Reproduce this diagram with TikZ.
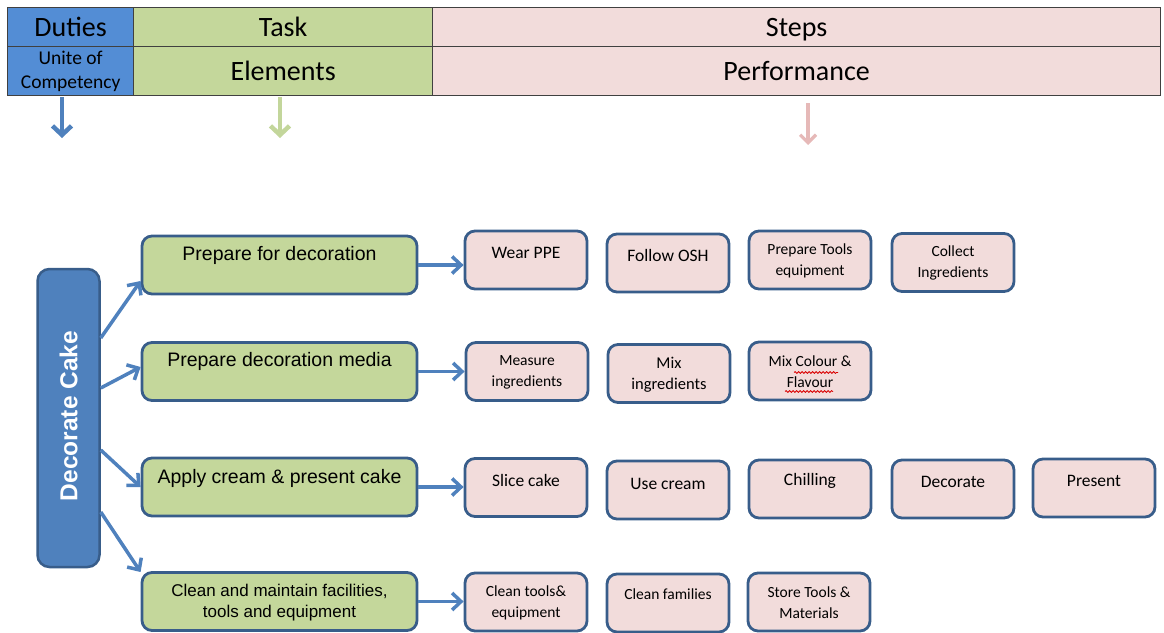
\documentclass[tikz,border=0pt]{standalone}
\usepackage{fontspec}
\setmainfont{Carlito}
\newfontfamily\arialf{Liberation Sans}
\usetikzlibrary{arrows.meta,calc,decorations.pathmorphing}
\definecolor{hblue}{RGB}{83,141,213}
\definecolor{hgreen}{RGB}{196,215,155}
\definecolor{hpink}{RGB}{242,220,219}
\definecolor{bblue}{RGB}{79,129,189}
\definecolor{bord}{RGB}{56,93,138}
\definecolor{hline}{RGB}{64,64,64}
\definecolor{agreen}{RGB}{195,214,155}
\definecolor{apink}{RGB}{230,185,184}
\begin{document}
\begin{tikzpicture}[x=1pt,y=-1pt,
  hcell/.style={draw=hline,line width=1.3pt,anchor=north west,inner sep=0pt,align=center,
    font=\fontsize{28}{30}\selectfont},
  hsingle/.style={text height=22pt,text depth=3pt},
  dutybox/.style={rounded corners=12pt,fill=bblue,draw=bord,line width=2.5pt,
    minimum width=62pt,minimum height=298pt,inner sep=0pt},
  taskbox/.style={rounded corners=10pt,fill=hgreen,draw=bord,line width=2.8pt,
    minimum width=275pt,minimum height=58pt,inner sep=0pt},
  stepbox/.style={rounded corners=10pt,fill=hpink,draw=bord,line width=2.8pt,
    minimum width=122pt,minimum height=58pt,inner sep=0pt},
  ttext/.style={inner sep=0pt,align=center,font=\arialf\fontsize{19.5}{21}\selectfont},
  ttextsm/.style={inner sep=0pt,align=center,font=\arialf\fontsize{17}{21}\selectfont},
  stext/.style={inner sep=0pt,align=center,font=\fontsize{17.5}{21}\selectfont},
  stextsm/.style={inner sep=0pt,align=center,font=\fontsize{15.5}{21}\selectfont},
  conn/.style={draw=bblue,line width=3.5pt,-{Straight Barb[length=9pt,width=17pt]}},
  harrow/.style={line width=4.5pt,-{Straight Barb[length=9pt,width=19pt]}},
  wavy/.style={draw=red!85!black,line width=0.8pt,decorate,
    decoration={snake,amplitude=0.9pt,segment length=3.5pt}}
]
\useasboundingbox (0,0) rectangle (1164,632);
\clip (0,0) rectangle (1164,632);

% header table
\node[hcell,hsingle,fill=hblue,minimum width=126pt,minimum height=39pt] (hd1) at (7,7) {Duties};
\node[hcell,hsingle,fill=hgreen,minimum width=299pt,minimum height=39pt] (ht1) at (133,7) {Task};
\node[hcell,hsingle,fill=hpink,minimum width=728pt,minimum height=39pt] (hs1) at (432,7) {Steps};
\node[hcell,fill=hblue,minimum width=126pt,minimum height=49pt,
  font=\fontsize{19.5}{24}\selectfont] (hd2) at (7,46) {Unite of\\Competency};
\node[hcell,hsingle,fill=hgreen,minimum width=299pt,minimum height=49pt] (ht2) at (133,46) {Elements};
\node[hcell,hsingle,fill=hpink,minimum width=728pt,minimum height=49pt] (hs2) at (432,46) {Performance};

% header arrows
\coordinate (ab1) at (62,97);  \coordinate (ae1) at (62,138);
\coordinate (ab2) at (280,97); \coordinate (ae2) at (280,138);
\coordinate (ab3) at (808,103); \coordinate (ae3) at (808,145);
\draw[harrow,draw=bblue] (ab1) -- (ae1);
\draw[harrow,draw=agreen] (ab2) -- (ae2);
\draw[line width=3.2pt,draw=apink,-{Straight Barb[length=8pt,width=16pt]}] (ab3) -- (ae3);

% duty
\node[dutybox] (dc) at (68.5,418) {};
\node[rotate=90,text=white,inner sep=0pt,font=\arialf\bfseries\fontsize{24.5}{26}\selectfont] (dct) at ($(dc.center)+(0,-2)$) {Decorate Cake};

% tasks
\node[taskbox] (g1) at (279.5,265) {};
\node[taskbox] (g2) at (279.5,371.5) {};
\node[taskbox] (g3) at (279.5,487) {};
\node[taskbox] (g4) at (279.5,601.5) {};
\node[ttext] (g1t) at ($(g1.north)+(0,21)$) {Prepare for decoration};
\node[ttext] (g2t) at ($(g2.north)+(0,20.5)$) {Prepare decoration media};
\node[ttext] (g3t) at ($(g3.north)+(0,22)$) {Apply cream \& present cake};
\node[ttextsm] (g4t) at ($(g4.north)+(0,31)$) {Clean and maintain facilities,\\tools and equipment};

% duty -> task connectors
\coordinate (s1) at (0,338); \coordinate (e1) at (0,281);
\coordinate (s2) at (0,388); \coordinate (e2) at (0,367);
\coordinate (s3) at (0,450); \coordinate (e3) at (0,487);
\coordinate (s4) at (0,512); \coordinate (e4) at (0,572);
\draw[conn] (dc.east |- s1) -- (g1.west |- e1);
\draw[conn] (dc.east |- s2) -- (g2.west |- e2);
\draw[conn] (dc.east |- s3) -- (g3.west |- e3);
\draw[conn] (dc.east |- s4) -- (g4.west |- e4);

% steps row 1
\node[stepbox] (p11) at (526,260) {};
\node[stepbox] (p12) at (668,263) {};
\node[stepbox] (p13) at (810,260) {};
\node[stepbox] (p14) at (953,262.5) {};
\node[stext] at ($(p11.north)+(0,23)$) {Wear PPE};
\node[stext] at ($(p12.north)+(0,23)$) {Follow OSH};
\node[stextsm] at ($(p13.north)+(0,31)$) {Prepare Tools\\equipment};
\node[stextsm] at ($(p14.north)+(0,31)$) {Collect\\Ingredients};

% steps row 2
\node[stepbox] (p21) at (527,371.5) {};
\node[stepbox] (p22) at (669,373.5) {};
\node[stepbox] (p23) at (810,371) {};
\node[stextsm] at ($(p21.north)+(0,31)$) {Measure\\ingredients};
\node[stext,font=\fontsize{16.5}{21}\selectfont] at ($(p22.north)+(0,31.5)$) {Mix\\ingredients};
\node[stextsm] (mc) at ($(p23.north)+(0,31.5)$) {Mix Colour \&\\Flavour};
\draw[wavy] (794,372.5) -- (838,372.5);
\draw[wavy] (785,391.5) -- (833,391.5);

% steps row 3
\node[stepbox] (p31) at (526,487.5) {};
\node[stepbox] (p32) at (668,490) {};
\node[stepbox] (p33) at (810,489) {};
\node[stepbox] (p34) at (953,489) {};
\node[stepbox] (p35) at (1094,488) {};
\node[stext] at ($(p31.north)+(0,23.5)$) {Slice cake};
\node[stext] at ($(p32.north)+(0,24)$) {Use cream};
\node[stext] at ($(p33.north)+(0,22)$) {Chilling};
\node[stext] at ($(p34.north)+(0,23)$) {Decorate};
\node[stext] at ($(p35.north)+(0,23)$) {Present};

% steps row 4
\node[stepbox] (p41) at (526,602) {};
\node[stepbox] (p42) at (668,603) {};
\node[stepbox] (p43) at (809,602) {};
\node[stextsm] at ($(p41.north)+(0,31.5)$) {Clean tools\&\\equipment};
\node[stextsm] at ($(p42.north)+(0,21.5)$) {Clean families};
\node[stextsm] at ($(p43.north)+(0,31.5)$) {Store Tools \&\\Materials};

% task -> step connectors
\draw[conn] (g1.east) -- (p11.west |- g1.east);
\draw[conn] (g2.east) -- (p21.west |- g2.east);
\draw[conn] (g3.east) -- (p31.west |- g3.east);
\draw[conn] (g4.east) -- (p41.west |- g4.east);
\end{tikzpicture}
\end{document}
